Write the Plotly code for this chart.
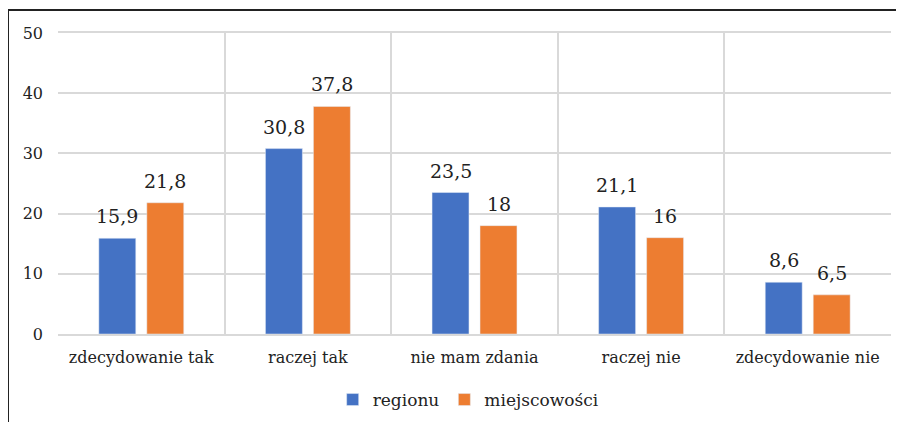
import plotly.graph_objects as go

categories = ["zdecydowanie tak", "raczej tak", "nie mam zdania", "raczej nie", "zdecydowanie nie"]
regionu = [15.9, 30.8, 23.5, 21.1, 8.6]
miejscowosci = [21.8, 37.8, 18, 16, 6.5]

SERIF = "DejaVu Serif"
BLUE = "#4472C4"
ORANGE = "#ED7D31"

# page has an 8px body margin, so the figure is sized to fill the rest
W, H = 896, 414
L, R, T, B = 50, 13, 25, 88
PW, PH = W - L - R, H - T - B


def fmt(v):
    return f"{v:g}".replace(".", ",")


fig = go.Figure()
annotations = []
for name, vals, color, shift in [
    ("regionu", regionu, BLUE, -24),
    ("miejscowości", miejscowosci, ORANGE, 24),
]:
    fig.add_trace(go.Bar(x=categories, y=vals, name=name, marker_color=color))
    for cat, v in zip(categories, vals):
        annotations.append(
            dict(
                x=cat,
                y=v,
                text=fmt(v),
                showarrow=False,
                xshift=shift,
                yanchor="bottom",
                yshift=9,
                font=dict(size=19, color="#222222", family=SERIF),
            )
        )

fig.update_layout(
    width=W,
    height=H,
    margin=dict(l=L, r=R, t=T, b=B, pad=0),
    paper_bgcolor="white",
    plot_bgcolor="white",
    barmode="group",
    bargap=0.424,
    bargroupgap=0.23,
    font=dict(family=SERIF, size=16, color="#222222"),
    annotations=annotations,
    legend=dict(
        orientation="h",
        x=0.493,
        xanchor="center",
        yref="container",
        y=1 - 392 / H,
        yanchor="middle",
        font=dict(size=17, family=SERIF, color="#222222"),
        itemwidth=30,
    ),
    shapes=[
        dict(
            type="rect",
            xref="paper",
            yref="paper",
            x0=(0 - L) / PW,
            x1=1.2,
            y0=-0.6,
            y1=(T + PH - 2) / PH,
            line=dict(color="#222222", width=2),
            layer="below",
        )
    ],
)

fig.update_xaxes(
    type="category",
    tickson="boundaries",
    tickangle=0,
    automargin=False,
    showgrid=True,
    gridcolor="#d9d9d9",
    gridwidth=1.5,
    ticks="",
    showline=True,
    linecolor="#d9d9d9",
    linewidth=1.5,
    mirror=True,
    ticklabelstandoff=8,
    tickfont=dict(family=SERIF, size=16),
)
fig.update_yaxes(
    range=[0, 50],
    dtick=10,
    automargin=False,
    showgrid=True,
    gridcolor="#d9d9d9",
    gridwidth=1.5,
    zeroline=False,
    ticks="",
    ticklabelstandoff=14,
    tickfont=dict(family=SERIF, size=16),
)

fig.write_html("out.html")
